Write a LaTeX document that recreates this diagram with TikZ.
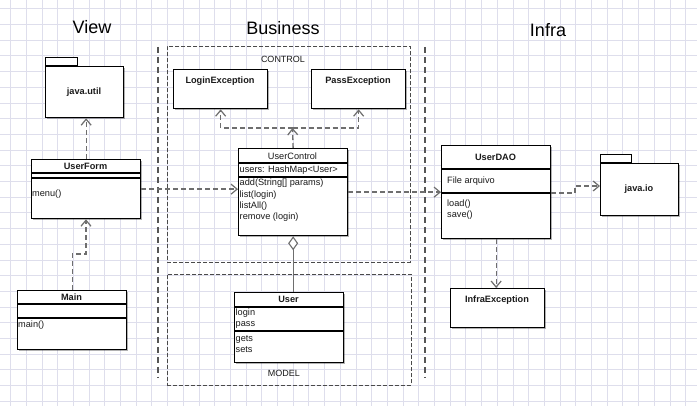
\documentclass[tikz,border=0pt]{standalone}
\usepackage{fontspec}
\setmainfont{Liberation Sans}
\usetikzlibrary{arrows.meta,shadows}
\definecolor{gridc}{HTML}{DEDEEC}
\definecolor{depc}{HTML}{6E6E6E}
\definecolor{sepc}{HTML}{555555}
\definecolor{boxc}{HTML}{4A4A4A}
\definecolor{txtc}{HTML}{1A1A1A}
\tikzset{
  x=1pt, y=-1pt,
  gridline/.style={draw=gridc, line width=0.8pt},
  cls/.style={draw=black, line width=1.3pt, fill=white, anchor=north west, inner sep=0pt,
    drop shadow={shadow xshift=1.6pt, shadow yshift=-1.6pt, opacity=0.3, fill=black}},
  tabbox/.style={draw=black, line width=1pt, fill=white},
  cline/.style={draw=black, line width=1.1pt},
  hdr/.style={font=\fontsize{9.2}{11}\selectfont\bfseries, text=txtc, inner sep=0pt},
  hdrreg/.style={font=\fontsize{9.2}{11}\selectfont, text=txtc, inner sep=0pt},
  mem/.style={font=\fontsize{9.2}{11}\selectfont, text=txtc, inner sep=0pt, anchor=west},
  title/.style={font=\fontsize{18}{20}\selectfont, text=black, inner sep=0pt},
  pkglabel/.style={font=\fontsize{9}{11}\selectfont, text=txtc, inner sep=0pt},
  container/.style={draw=boxc, line width=0.9pt, dash pattern=on 4pt off 2pt, anchor=north west, inner sep=0pt},
  sepline/.style={draw=sepc, line width=1.8pt, dash pattern=on 6pt off 4pt},
  dep/.style={draw=depc, line width=1.3pt, dash pattern=on 5pt off 3pt,
    -{Straight Barb[length=6pt,width=10pt,line width=1.2pt]}},
  agg/.style={draw=depc, line width=1.2pt,
    -{Diamond[open,fill=white,length=14pt,width=10pt,line width=1.1pt]}},
}
\begin{document}
\begin{tikzpicture}
\useasboundingbox (0,0) rectangle (697,406);
\fill[white] (0,0) rectangle (697,406);
% grid
\foreach \i in {0,...,44} \draw[gridline] ({10.5+15.7*\i},0) -- ({10.5+15.7*\i},406);
\foreach \j in {0,...,25} \draw[gridline] (0,{8.8+15.7*\j}) -- (697,{8.8+15.7*\j});

% titles
\node[title] (tview) at (92,27) {View};
\node[title] (tbus) at (283,28) {Business};
\node[title] (tinfra) at (548,30) {Infra};

% separators
\draw[sepline] (158,47) -- (158,378);
\draw[sepline] (425,47) -- (425,378);

% containers
\node[container, minimum width=243pt, minimum height=216pt] (control) at (167,46) {};
\node[pkglabel] (controllbl) at (283,59) {CONTROL};
\node[container, minimum width=244pt, minimum height=111pt] (model) at (167,274) {};
\node[pkglabel] (modellbl) at (284,373) {MODEL};

% java.util package
\draw[tabbox] (45,58) rectangle (77,66);
\node[cls, minimum width=78pt, minimum height=51pt] (jutil) at (45,66) {};
\node[hdr] (jutiltxt) at (84,92) {java.util};

% UserForm
\node[cls, minimum width=109pt, minimum height=59pt] (userform) at (31,159) {};
\draw[cline] (31,173) -- (140,173);
\draw[cline] (31,178) -- (140,178);
\node[hdr] (ufh) at (85.5,166) {UserForm};
\node[mem] (ufm) at (32,194) {menu()};

% Main
\node[cls, minimum width=109pt, minimum height=59pt] (main) at (17,290) {};
\draw[cline] (17,304) -- (126,304);
\draw[cline] (17,318) -- (126,318);
\node[hdr] (mainh) at (71.5,297) {Main};
\node[mem] (mainm) at (18,325) {main()};

% LoginException / PassException
\node[cls, minimum width=94pt, minimum height=39pt] (loginex) at (173,69) {};
\node[hdr] (loginexh) at (220,81) {LoginException};
\node[cls, minimum width=94pt, minimum height=39pt] (passex) at (311,69) {};
\node[hdr] (passexh) at (358,81) {PassException};

% UserControl
\node[cls, minimum width=109pt, minimum height=87pt] (uc) at (238,148) {};
\draw[cline] (238,163) -- (347,163);
\draw[cline] (238,177) -- (347,177);
\node[hdrreg] (uch) at (292.5,156) {UserControl};
\node[mem] (uca1) at (239.5,170) {users: HashMap<User>};
\node[mem] (ucm1) at (239.5,183.5) {add(String[] params)};
\node[mem] (ucm2) at (239.5,194.8) {list(login)};
\node[mem] (ucm3) at (239.5,206.1) {listAll()};
\node[mem] (ucm4) at (239.5,217.4) {remove (login)};

% User
\node[cls, minimum width=109pt, minimum height=70pt] (user) at (234,292) {};
\draw[cline] (234,307) -- (343,307);
\draw[cline] (234,331) -- (343,331);
\node[hdr] (userh) at (288.5,299.5) {User};
\node[mem] (usera1) at (235.5,313.5) {login};
\node[mem] (usera2) at (235.5,324.5) {pass};
\node[mem] (userm1) at (235.5,339) {gets};
\node[mem] (userm2) at (235.5,350) {sets};

% UserDAO
\node[cls, minimum width=109pt, minimum height=93pt] (dao) at (441,145) {};
\draw[cline] (441,169) -- (550,169);
\draw[cline] (441,193) -- (550,193);
\node[hdr] (daoh) at (495.5,157) {UserDAO};
\node[mem] (daoa) at (447,181) {File arquivo};
\node[mem] (daom1) at (447,204) {load()};
\node[mem] (daom2) at (447,215) {save()};

% java.io package
\draw[tabbox] (600,155) rectangle (631,163);
\node[cls, minimum width=78pt, minimum height=52pt] (jio) at (600,163) {};
\node[hdr] (jiotxt) at (639,189) {java.io};

% InfraException
\node[cls, minimum width=94pt, minimum height=39pt] (infra) at (450,288) {};
\node[hdr] (infrah) at (497,300) {InfraException};

% connectors
\draw[dep] (userform.north) -- (userform.north |- jutil.south);
\coordinate (mb) at (86,254);
\draw[dep] (main.north) |- (mb) -- (mb |- userform.south);
\draw[dep] (userform.east) -- (userform.east -| uc.west);
\coordinate (ej) at (292.5,128);
\draw[dep] (uc.north) -- (ej);
\draw[dep] (ej) -| (loginex.south);
\draw[dep] (ej) -| (passex.south);
\draw[dep] (uc.east) -- (dao.west);
\coordinate (d1) at (575,193);
\coordinate (d2) at (575,186);
\draw[dep] (dao.east |- d1) -- (d1) -- (d2) -- (d2 -| jio.west);
\draw[dep] (dao.south) -- (dao.south |- infra.north);
\draw[agg] (uc.south |- user.north) -- (uc.south);
\end{tikzpicture}
\end{document}
